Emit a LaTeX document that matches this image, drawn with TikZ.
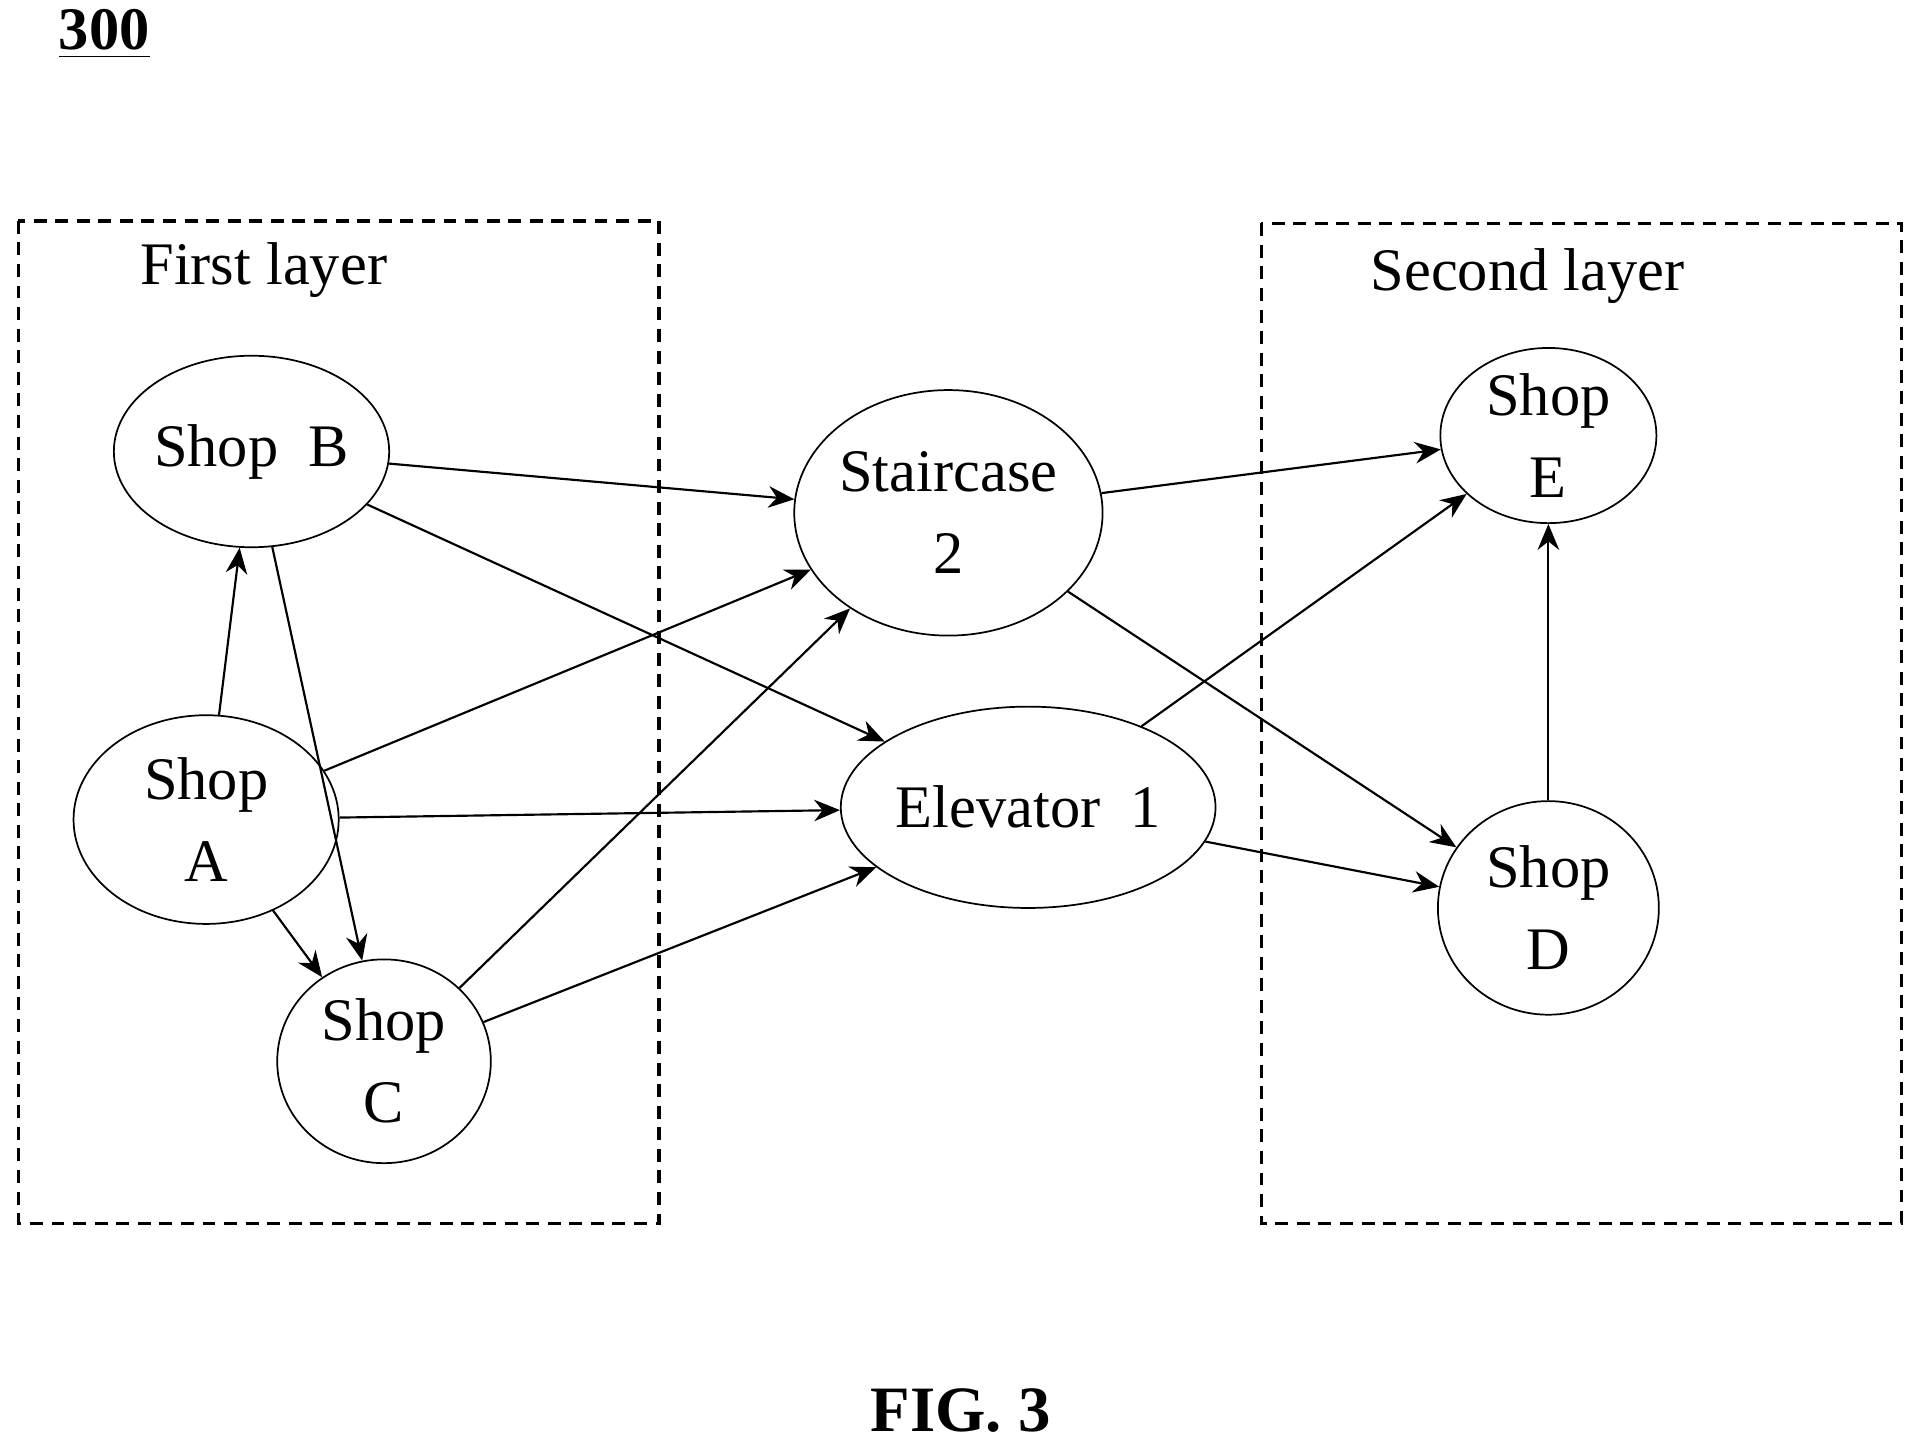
\documentclass[tikz,border=0pt]{standalone}
\usepackage{fontspec}
\setmainfont{Liberation Serif}
\usetikzlibrary{shapes.geometric,arrows.meta}
\tikzset{
  spot/.style={draw, ellipse, inner sep=0pt, align=center, font=\fontsize{14}{19}\selectfont},
  layer/.style={draw, densely dashed, line width=0.8pt},
  link/.style={-{Stealth[length=6pt,width=5pt]}, line width=0.5pt}
}
\begin{document}
\begin{tikzpicture}[x=0.01cm, y=0.01cm]
        \useasboundingbox (0,0) rectangle (1560,-1177);
        % Title
        \node (num) at (85,-28) {\fontsize{14}{16}\selectfont\bfseries\underline{300}};

        % Layers
        \draw[layer] (15,-180) rectangle (537,-997);
        \draw[layer] (1028,-182) rectangle (1550,-997);
        \node[font=\fontsize{14}{16}\selectfont] (l1) at (215,-220) {First layer};
        \node[font=\fontsize{14}{16}\selectfont] (l2) at (1245,-225) {Second layer};

        % Places
        \node[spot, minimum width=2.00cm, minimum height=1.56cm] (b) at (205,-368) {Shop\ \ B};
        \node[spot, minimum width=2.16cm, minimum height=1.70cm] (a) at (168,-668) {Shop\\A};
        \node[spot, minimum width=1.74cm, minimum height=1.66cm] (c) at (313,-865) {Shop\\C};
        \node[spot, minimum width=2.30cm, minimum height=2.00cm] (s) at (773,-418) {Staircase\\2};
        \node[spot, minimum width=2.50cm, minimum height=1.64cm] (e1) at (838,-658) {Elevator\ \ 1};
        \node[spot, minimum width=1.76cm, minimum height=1.40cm] (e) at (1262,-355) {Shop\\E};
        \node[spot, minimum width=1.80cm, minimum height=1.74cm] (d) at (1262,-740) {Shop\\D};

        % Links
        \draw[link] (a) -- (b);
        \draw[link] (b) -- (c);
        \draw[link] (a) -- (c);
        \draw[link] (b) -- (s);
        \draw[link] (b) -- (e1);
        \draw[link] (a) -- (s);
        \draw[link] (a) -- (e1);
        \draw[link] (c) -- (s);
        \draw[link] (c) -- (e1);
        \draw[link] (s) -- (e);
        \draw[link] (s) -- (d);
        \draw[link] (e1) -- (e);
        \draw[link] (e1) -- (d);
        \draw[link] (d) -- (e);

        \node (fig) at (783,-1150) {\fontsize{15}{17}\selectfont\bfseries FIG. 3};
    \end{tikzpicture}
\end{document}
